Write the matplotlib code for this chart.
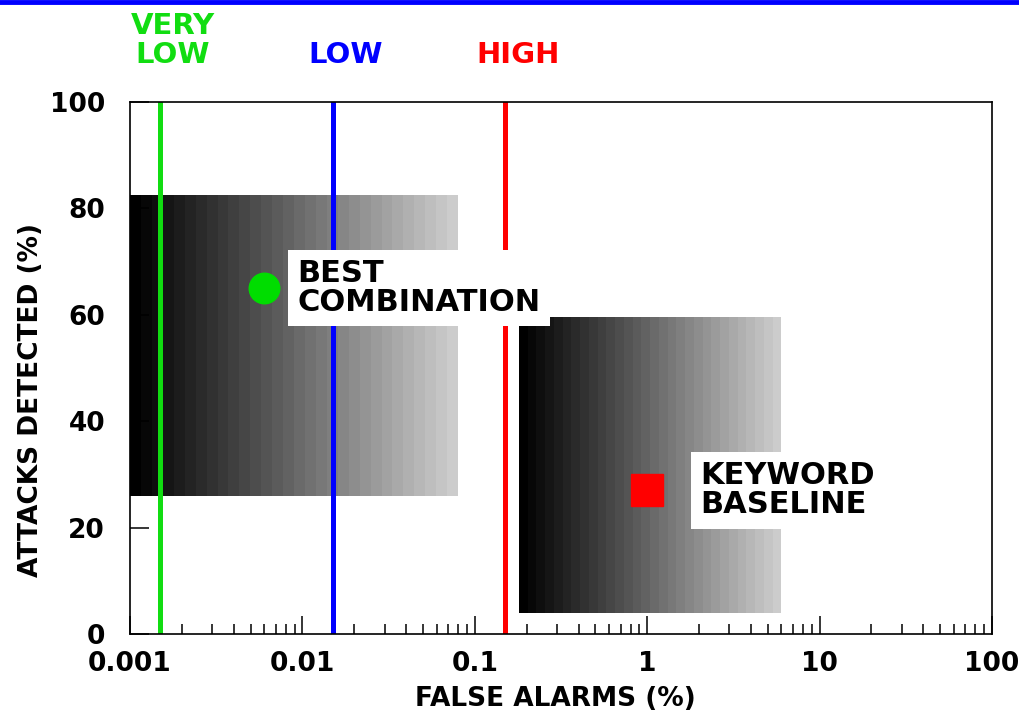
import numpy as np
import matplotlib
matplotlib.use("Agg")
import matplotlib.pyplot as plt
from matplotlib.lines import Line2D

plt.rcParams["font.family"] = ["DejaVu Sans"]
plt.rcParams["font.weight"] = "bold"

# threshold lines (false alarm %) and their labels / colours
thresholds = [0.0015, 0.015, 0.15]
threshold_labels = ["VERY\nLOW", "LOW", "HIGH"]
threshold_colors = ["#11dd11", "#0000ff", "#ff0000"]

# shaded ranges: (x from, x to, y from, y to)
ranges = [(0.001, 0.08, 26, 82.5),
          (0.18, 6.0, 4, 59.5)]

# points
best_x, best_y = 0.006, 65
base_x, base_y = 1.0, 27

xticks = [0.001, 0.01, 0.1, 1, 10, 100]
xtick_labels = ["0.001", "0.01", "0.1", "1", "10", "100"]
yticks = [0, 20, 40, 60, 80, 100]

fig = plt.figure(figsize=(10.19, 7.15), dpi=100)
ax = fig.add_axes([0.1276, 0.1133, 0.8459, 0.744])
ax.set_xscale("log")
ax.set_xlim(0.001, 100)
ax.set_ylim(0, 100)

# gradient boxes, black on the left fading to light grey
n_steps = 30
for x0, x1, y0, y1 in ranges:
    edges = np.logspace(np.log10(x0), np.log10(x1), n_steps + 1)
    for i in range(n_steps):
        g = 0.8 * i / (n_steps - 1)
        ax.bar(edges[i], y1 - y0, width=edges[i + 1] - edges[i], bottom=y0,
               align="edge", color=(g, g, g), linewidth=0, zorder=1)

for x, lab, c in zip(thresholds, threshold_labels, threshold_colors):
    ax.axvline(x, color=c, lw=3.6, zorder=2)
    ax.annotate(lab, xy=(x, 1), xycoords=("data", "axes fraction"),
                xytext=(9, 24), textcoords="offset points",
                ha="center", va="bottom", color=c, fontsize=21,
                fontweight="bold", linespacing=1.05)

ax.plot(best_x, best_y, "o", color="#00dd00", markersize=22, zorder=4)
ax.plot(base_x, base_y, "s", color="#ff0000", markersize=23, zorder=4)

ax.annotate("BEST\nCOMBINATION", xy=(best_x, best_y), xytext=(24, 0),
            textcoords="offset points", ha="left", va="center",
            fontsize=22, fontweight="bold", linespacing=1.0, zorder=5,
            bbox=dict(boxstyle="square,pad=0.3", fc="white", ec="none"))
ax.annotate("KEYWORD\nBASELINE", xy=(base_x, base_y), xytext=(38, 0),
            textcoords="offset points", ha="left", va="center",
            fontsize=22, fontweight="bold", linespacing=1.0, zorder=5,
            bbox=dict(boxstyle="square,pad=0.3", fc="white", ec="none"))

ax.set_xticks(xticks)
ax.set_xticklabels(xtick_labels)
ax.set_yticks(yticks)
ax.tick_params(axis="x", which="major", direction="in", length=13, width=1.1,
               pad=12, labelsize=19)
ax.tick_params(axis="x", which="minor", direction="in", length=7, width=1.1)
ax.tick_params(axis="y", direction="in", length=14, width=1.1, pad=18,
               labelsize=19)
for s in ax.spines.values():
    s.set_linewidth(1.2)
    s.set_zorder(6)

ax.set_xlabel("FALSE ALARMS (%)", fontsize=19, fontweight="bold")
ax.xaxis.set_label_coords(0.493, -0.098)
ax.set_ylabel("ATTACKS DETECTED (%)", fontsize=19, fontweight="bold")
ax.yaxis.set_label_coords(-0.1, 0.44)

# blue rule along the top edge
fig.add_artist(Line2D([0, 1], [0.997, 0.997], color="#0000ff", lw=3.5,
                      transform=fig.transFigure))

fig.savefig("out.png", dpi=100)
